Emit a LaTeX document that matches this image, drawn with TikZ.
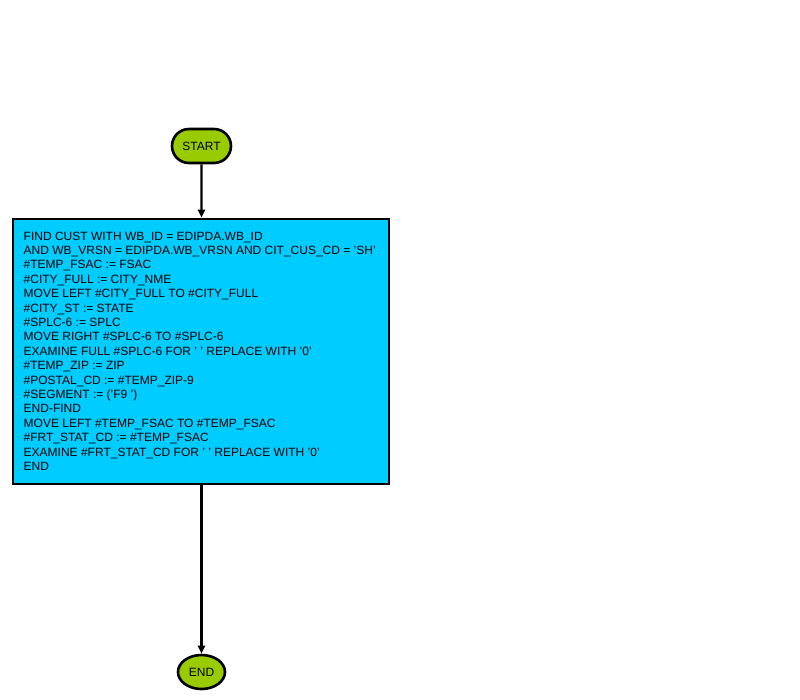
\documentclass[tikz,border=0pt]{standalone}
\usepackage{fontspec}
\setmainfont{Liberation Sans}
\usetikzlibrary{shapes.geometric,shapes.misc,arrows.meta}
\definecolor{termgreen}{HTML}{99CC00}
\definecolor{procblue}{HTML}{00CCFF}
\tikzset{
  terminal/.style={draw=black, line width=2.6pt, fill=termgreen, rounded rectangle, minimum width=#1, minimum height=34pt, inner sep=0pt, font=\fontsize{12}{14.4}\selectfont},
  endterm/.style={draw=black, line width=2.6pt, fill=termgreen, ellipse, minimum width=47pt, minimum height=34pt, inner sep=0pt, font=\fontsize{12}{14.4}\selectfont},
  procbox/.style={draw=black, line width=2.6pt, fill=procblue},
  codetext/.style={align=left, inner sep=0pt, anchor=north west, font=\fontsize{12}{14.4}\selectfont},
  flow/.style={line width=2.2pt, -{Triangle[length=8pt,width=7pt]}}
}
\begin{document}
\begin{tikzpicture}[x=1pt,y=-1pt]
\useasboundingbox (0,0) rectangle (800,700);
\node[terminal=59pt] (start) at (201.5,146) {START};
\node[procbox, minimum width=376pt, minimum height=265pt, inner sep=0pt] (box) at (201,351.5) {};
\node[codetext] (code) at (23.5,231.5) {FIND CUST WITH WB\_ID = EDIPDA.WB\_ID\\
AND WB\_VRSN = EDIPDA.WB\_VRSN AND CIT\_CUS\_CD = 'SH'\\
\#TEMP\_FSAC := FSAC\\
\#CITY\_FULL := CITY\_NME\\
MOVE LEFT \#CITY\_FULL TO \#CITY\_FULL\\
\#CITY\_ST := STATE\\
\#SPLC-6 := SPLC\\
MOVE RIGHT \#SPLC-6 TO \#SPLC-6\\
EXAMINE FULL \#SPLC-6 FOR ' ' REPLACE WITH '0'\\
\#TEMP\_ZIP := ZIP\\
\#POSTAL\_CD := \#TEMP\_ZIP-9\\
\#SEGMENT := ('F9 ')\\
END-FIND\\
MOVE LEFT \#TEMP\_FSAC TO \#TEMP\_FSAC\\
\#FRT\_STAT\_CD := \#TEMP\_FSAC\\
EXAMINE \#FRT\_STAT\_CD FOR ' ' REPLACE WITH '0'\\
END};
\node[endterm] (end) at (201.5,672) {END};
\draw[flow] (start) -- (box.north -| start);
\draw[flow] (box.south -| end) -- (end);
\end{tikzpicture}
\end{document}
